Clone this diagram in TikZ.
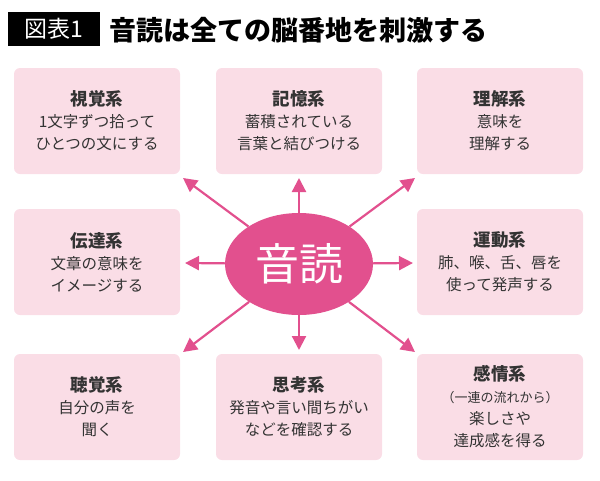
\documentclass[tikz,border=0pt]{standalone}
\usepackage{fontspec}
\setmainfont{Noto Sans CJK JP}
\usetikzlibrary{arrows.meta,shapes.geometric}
\definecolor{boxpink}{HTML}{FADDE6}
\definecolor{hubpink}{HTML}{E2508E}
\definecolor{txtgray}{HTML}{333333}
\tikzset{
  infobox/.style={fill=boxpink,rounded corners=6pt,minimum width=166pt,minimum height=106pt,
    align=center,text=txtgray,font=\fontsize{15.5}{22}\selectfont},
  hub/.style={ellipse,fill=hubpink,minimum width=148pt,minimum height=102pt,inner sep=0pt,
    text=white,font=\fontsize{44}{44}\selectfont},
  spoke/.style={draw=hubpink,line width=2.2pt,-{Triangle[length=14pt,width=14pt]}}
}
\newcommand{\hd}[1]{{\bfseries\fontsize{17.5}{27}\selectfont #1}\\}
\begin{document}
\begin{tikzpicture}[x=1pt,y=-1pt]
        \useasboundingbox (0,0) rectangle (600,480);
        % Title
        \fill[black] (8,12) rectangle (100,46);
        \node[text=white,font=\fontsize{23}{23}\selectfont] (tag) at (54,29) {図表1};
        \node[anchor=west,font=\bfseries\fontsize{27}{27}\selectfont] (title) at (106,30) {音読は全ての脳番地を刺激する};

        % Boxes
        \node[infobox] (vis) at (97,121) {\hd{視覚系}1文字ずつ拾って\\ひとつの文にする};
        \node[infobox] (mem) at (299,121) {\hd{記憶系}蓄積されている\\言葉と結びつける};
        \node[infobox] (und) at (500,121) {\hd{理解系}意味を\\理解する};
        \node[infobox] (com) at (97,262) {\hd{伝達系}文章の意味を\\イメージする};
        \node[infobox] (mot) at (500,262) {\hd{運動系}肺、喉、舌、唇を\\使って発声する};
        \node[infobox] (aud) at (97,407) {\hd{聴覚系}自分の声を\\聞く};
        \node[infobox] (thi) at (299,407) {\hd{思考系}発音や言い間ちがい\\などを確認する};
        \node[infobox] (emo) at (500,407) {\hd{感情系}{\fontsize{13}{17}\selectfont（一連の流れから）}\\楽しさや\\達成感を得る};

        % Hub and spokes
        \node[hub] (hubnode) at (299,264) {音読};
        \coordinate (tUL) at (183,178);
        \coordinate (tU) at (299,178);
        \coordinate (tUR) at (415,178);
        \coordinate (tL) at (185,263);
        \coordinate (tR) at (413,263);
        \coordinate (tLL) at (183,352);
        \coordinate (tD) at (299,350);
        \coordinate (tLR) at (415,352);
        \foreach \t in {tUL,tU,tUR,tL,tR,tLL,tD,tLR}
          \draw[spoke] (hubnode) -- (\t);
\end{tikzpicture}
\end{document}
